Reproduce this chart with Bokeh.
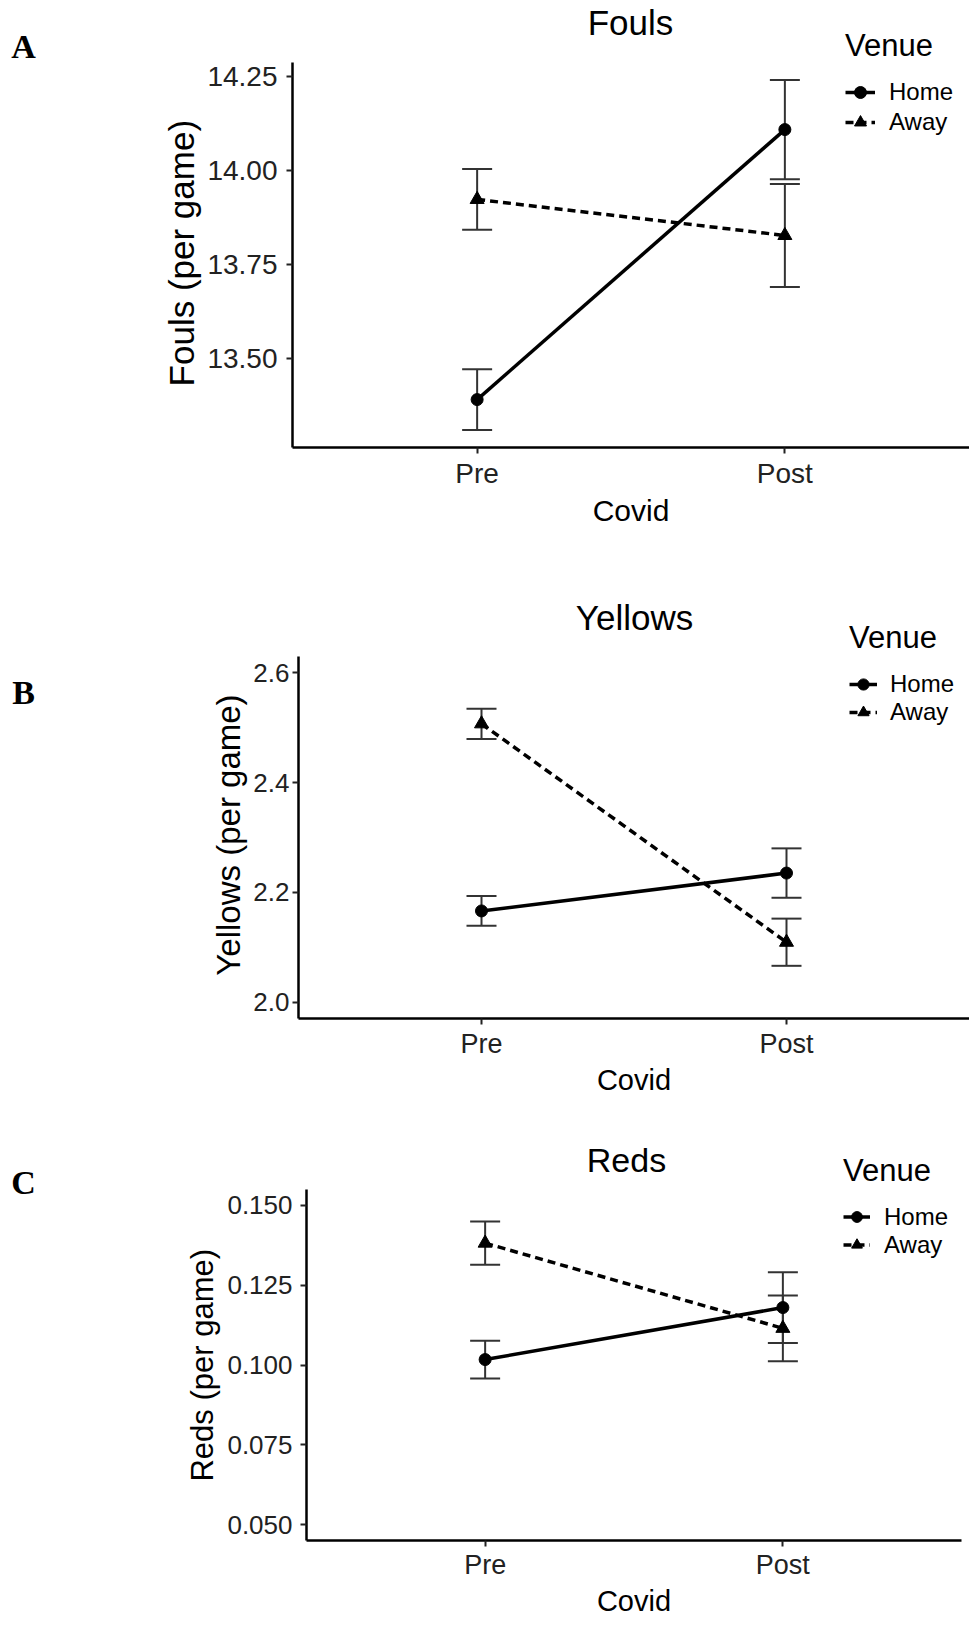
from bokeh.plotting import figure
from bokeh.models import (ColumnDataSource, FactorRange, Range1d, Whisker, TeeHead,
                          Legend, LegendItem, Label, FixedTicker, NumeralTickFormatter)
from bokeh.layouts import column, row
from bokeh.embed import file_html
from bokeh.resources import INLINE

# ---------------- data ----------------
covid = ["Pre", "Post"]
venues = ["Home", "Away"]

fouls_home = [13.390, 14.109]
fouls_home_se = [0.081, 0.132]
fouls_away = [13.923, 13.827]
fouls_away_se = [0.081, 0.137]
fouls_ticks = [13.50, 13.75, 14.00, 14.25]

yellows_home = [2.166, 2.235]
yellows_home_se = [0.027, 0.045]
yellows_away = [2.507, 2.109]
yellows_away_se = [0.0275, 0.043]
yellows_ticks = [2.0, 2.2, 2.4, 2.6]
yellows_limits = [2.0, 2.6]

reds_home = [0.1017, 0.1180]
reds_home_se = [0.0059, 0.0111]
reds_away = [0.1382, 0.1115]
reds_away_se = [0.0068, 0.0103]
reds_ticks = [0.050, 0.075, 0.100, 0.125, 0.150]
reds_limits = [0.05, 0.15]

FONT = "Liberation Sans"
LETTER_W = 40
MAIN_W = 929
PAGE_X0 = LETTER_W   # page x of the main figure's left edge
NBSP = "\u00a0"


def expand(lo, hi, f=0.05):
    d = (hi - lo) * f
    return lo - d, hi + d


def make_panel(letter, title, ylab, home, home_se, away, away_se, ticks, fmt, limits, g):
    top = g["top"]                       # page y of figure top
    h = g["h"]
    fl = g["frame_left"]                 # page x of frame left
    mbl = fl - PAGE_X0
    frame_h = h - g["mb"]
    fb = top + frame_h                   # page y of frame bottom
    lo, hi = expand(*limits)
    ppu = (fb - g["data_top"]) / (hi - lo)
    y_end = hi + (g["data_top"] - top) / ppu

    p = figure(width=MAIN_W, height=h, title=None,
               x_range=FactorRange(factors=covid, range_padding=0.1,
                                   range_padding_units="absolute"),
               y_range=Range1d(lo, y_end),
               output_backend="svg", toolbar_location=None,
               min_border_left=mbl, min_border_right=g["mr"],
               min_border_top=0, min_border_bottom=g["mb"])
    p.outline_line_color = None
    p.xgrid.visible = False
    p.ygrid.visible = False
    p.background_fill_color = "white"

    renderers = {}
    for name, vals, se, marker, msize, dash in (
            ("Home", home, home_se, "circle", 12, "solid"),
            ("Away", away, away_se, "triangle", 14, "8 5")):
        src = ColumnDataSource(dict(
            covid=covid, y=vals,
            lower=[v - s for v, s in zip(vals, se)],
            upper=[v + s for v, s in zip(vals, se)]))
        p.add_layout(Whisker(base="covid", lower="lower", upper="upper", source=src,
                             line_color="#333333", line_width=2,
                             upper_head=TeeHead(size=30, line_color="#333333", line_width=2),
                             lower_head=TeeHead(size=30, line_color="#333333", line_width=2)))
        lr = p.line("covid", "y", source=src, line_color="black", line_width=3.5,
                    line_dash=dash)
        sr = p.scatter("covid", "y", source=src, marker=marker, size=msize,
                       fill_color="black", line_color="black")
        renderers[name] = [lr, sr]

    legend = Legend(items=[LegendItem(label=v, renderers=renderers[v]) for v in venues],
                    location=(g["leg_left"] - fl, fb - g["leg_bottom"]), title="Venue",
                    title_text_font=FONT, title_text_font_size="31px",
                    title_text_font_style="normal", title_text_color="black",
                    title_standoff=g["ts"],
                    label_text_font=FONT, label_text_font_size="24px",
                    label_text_color="black",
                    glyph_width=g["gh"], glyph_height=g["gh"], label_standoff=g["ls"],
                    spacing=0, padding=0, margin=0,
                    border_line_color=None, background_fill_alpha=0)
    p.add_layout(legend)

    # the y title is centred on the whole frame; pad its (upper) end with
    # non-breaking spaces so that the visible text is centred on the data area
    yl_px = float(g["yl"].replace("px", ""))
    shift = g["ylab_center"] - (top + fb) / 2.0
    n_pad = max(0, int(round(2 * shift / (0.278 * yl_px))))

    xa = p.xaxis[0]
    ya = p.yaxis[0]
    xa.axis_label = "Covid"
    ya.axis_label = ylab + NBSP * n_pad
    ya.ticker = FixedTicker(ticks=ticks)
    ya.formatter = NumeralTickFormatter(format=fmt)
    ya.bounds = (lo, hi)
    for ax in (xa, ya):
        ax.axis_line_width = 2.5
        ax.axis_line_color = "black"
        ax.major_tick_line_width = 2
        ax.major_tick_line_color = "#222222"
        ax.major_tick_out = 6
        ax.major_tick_in = 0
        ax.minor_tick_out = 0
        ax.minor_tick_in = 0
        ax.axis_label_text_font = FONT
        ax.axis_label_text_font_style = "normal"
        ax.axis_label_text_color = "black"
        ax.major_label_text_font = FONT
        ax.major_label_text_color = "#222222"
    xa.major_label_text_font_size = g["xt"]
    xa.axis_label_text_font_size = g["xl"]
    xa.major_label_standoff = g["xs"]
    xa.axis_label_standoff = g["xls"]
    ya.major_label_text_font_size = g["yt"]
    ya.axis_label_text_font_size = g["yl"]
    ya.major_label_standoff = g["ys"]
    ya.axis_label_standoff = g["yls"]

    tx, ty = g["title_pos"]
    p.add_layout(Label(x=tx - fl, y=fb - ty, x_units="screen", y_units="screen",
                       text=title, text_align="center", text_baseline="middle",
                       text_font=FONT, text_font_size=g["tf"], text_color="black"))

    # narrow figure holding the panel letter; its frame is aligned with the main frame
    lf = figure(width=LETTER_W, height=h, x_axis_type=None, y_axis_type=None,
                x_range=Range1d(0, 1), y_range=Range1d(0, 1),
                output_backend="svg", toolbar_location=None, title=None,
                min_border_left=0, min_border_right=0, min_border_top=0,
                min_border_bottom=0)
    lf.outline_line_color = None
    lf.add_layout(Label(x=23, y=fb - g["letter_y"], x_units="screen",
                        y_units="screen", text=letter, text_align="center",
                        text_baseline="middle", text_font="Liberation Serif",
                        text_font_style="bold", text_font_size="34px",
                        text_color="black"))
    return row(lf, p, spacing=0)


all_f = fouls_home + fouls_away
all_fse = fouls_home_se + fouls_away_se
fouls_limits = [min(v - s for v, s in zip(all_f, all_fse)),
                max(v + s for v, s in zip(all_f, all_fse))]

gA = dict(top=0, h=541, mb=94, mr=0, frame_left=292, data_top=62,
          leg_left=845, leg_bottom=137, ts=13, gh=30, ls=14,
          xt="28px", xl="30px", xs=4, xls=2, yt="28px", yl="35px", ys=9, yls=3,
          ylab_center=252, title_pos=(630, 22), tf="35px", letter_y=46)
gB = dict(top=541, h=571, mb=94, mr=0, frame_left=298, data_top=655.8,
          leg_left=849, leg_bottom=726, ts=14, gh=28, ls=13,
          xt="27px", xl="29px", xs=4, xls=2, yt="26px", yl="33px", ys=3, yls=3,
          ylab_center=834, title_pos=(634, 617), tf="35px", letter_y=692)
gC = dict(top=1112, h=515, mb=87, mr=8, frame_left=306, data_top=1189,
          leg_left=843, leg_bottom=1258.5, ts=14, gh=27, ls=14,
          xt="27px", xl="29px", xs=3, xls=2, yt="26px", yl="31px", ys=8, yls=4,
          ylab_center=1365, title_pos=(626, 1159), tf="34px", letter_y=1182)

rA = make_panel("A", "Fouls", "Fouls (per game)", fouls_home, fouls_home_se,
                fouls_away, fouls_away_se, fouls_ticks, "0.00", fouls_limits, gA)
rB = make_panel("B", "Yellows", "Yellows (per game)", yellows_home, yellows_home_se,
                yellows_away, yellows_away_se, yellows_ticks, "0.0", yellows_limits, gB)
rC = make_panel("C", "Reds", "Reds (per game)", reds_home, reds_home_se,
                reds_away, reds_away_se, reds_ticks, "0.000", reds_limits, gC)

layout = column(rA, rB, rC, spacing=0)
open("out.html", "w").write(file_html(layout, INLINE))
